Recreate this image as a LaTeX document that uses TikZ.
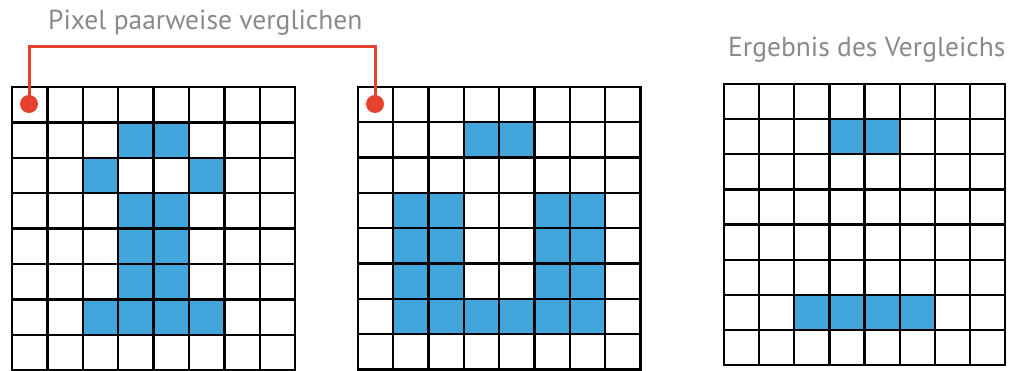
\documentclass[tikz,border=0pt]{standalone}
\usepackage{fontspec}
\setmainfont{PT Sans}
\definecolor{pixblue}{HTML}{42A6DD}
\definecolor{dotred}{HTML}{E4412F}
\definecolor{labelgray}{HTML}{8A8A8A}
\tikzset{
  pix/.style={fill=pixblue},
  gridline/.style={draw=black, line width=2.3pt, line cap=rect},
  reddot/.style={circle, fill=dotred, inner sep=0pt, minimum size=18pt},
  redline/.style={draw=dotred, line width=3pt},
  caption/.style={text=labelgray, inner sep=0pt, anchor=base west, font=\fontsize{27.5}{30}\selectfont}
}
\newcommand\pixgrid[4]{%
  \foreach \r/\c in {#4} {\fill[pix] ({#1+\c*#3},{#2+\r*#3}) rectangle ++(#3,#3);}
  \foreach \i in {0,...,8} {%
    \draw[gridline] ({#1+\i*#3},#2) -- ++(0,{8*#3});
    \draw[gridline] (#1,{#2+\i*#3}) -- ++({8*#3},0);
  }%
}
\begin{document}
\begin{tikzpicture}[x=1pt,y=-1pt]
\useasboundingbox (0,0) rectangle (1011,371);
\fill[white] (0,0) rectangle (1011,371);
% grid 1
\pixgrid{12}{87}{35.4}{1/3,1/4,2/2,2/5,3/3,3/4,4/3,4/4,5/3,5/4,6/2,6/3,6/4,6/5}
% grid 2
\pixgrid{358}{87}{35.3}{1/3,1/4,3/1,3/2,3/5,3/6,4/1,4/2,4/5,4/6,5/1,5/2,5/5,5/6,6/1,6/2,6/3,6/4,6/5,6/6}
% grid 3
\pixgrid{724}{84}{35.15}{1/3,1/4,6/2,6/3,6/4,6/5}
% dots and connector
\node[reddot] (d1) at (29,104) {};
\node[reddot] (d2) at (375,104) {};
\draw[redline] (d1.center) -- ++(0,-57) -| (d2.center);
% labels
\node[caption] (t1) at (48,30) {Pixel paarweise verglichen};
\node[caption] (t2) at (728,57) {Ergebnis des Vergleichs};
\end{tikzpicture}
\end{document}
